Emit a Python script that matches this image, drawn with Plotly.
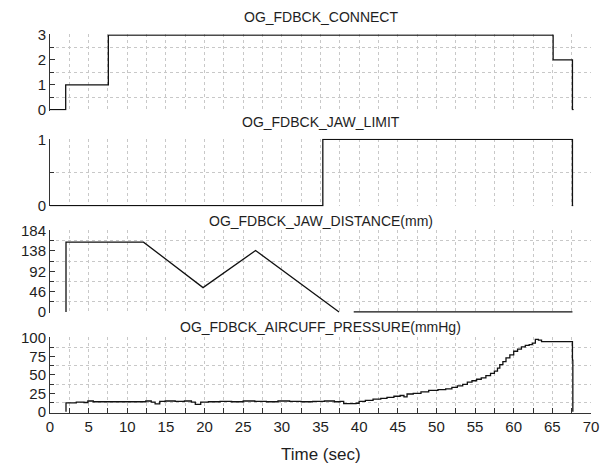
import plotly.graph_objects as go

# ---------------- data ----------------
titles = ["OG_FDBCK_CONNECT", "OG_FDBCK_JAW_LIMIT",
          "OG_FDBCK_JAW_DISTANCE(mm)", "OG_FDBCK_AIRCUFF_PRESSURE(mmHg)"]

connect_t = [0, 2.03, 7.55, 65.1, 67.6, 67.75]
connect_v = [0, 1, 3, 2, 0, 0]

limit_t = [0, 35.3, 67.6, 67.7]
limit_v = [0, 1, 0, 0]

dist_t = [2.07, 2.07, 12.1, 19.8, 26.6, 37.4, None, 39.3, 67.6]
dist_v = [0, 158, 158, 55, 139, 0, None, 0, 0]

press_t = [2.07, 2.07, 3.4, 4.4, 4.9, 5.6, 8.0, 10.5, 12.4, 13.1,
           13.6, 14.2, 14.9, 16.2, 17.4, 18.3, 18.8, 19.5, 20.5, 22.0,
           23.5, 25.0, 26.5, 28.0, 29.5, 31.0, 32.5, 34.0, 35.5, 36.8,
           37.5, 38.0, 39.6, 40.0, 40.8, 41.8, 42.8, 43.6, 44.5, 45.3,
           45.8, 46.2, 47.0, 48.0, 49.0, 50.2, 51.2, 52.0, 52.7, 53.4,
           54.0, 54.6, 55.2, 55.8, 56.4, 57.0, 57.5, 57.9, 58.2, 58.6,
           59.0, 59.5, 60.0, 60.5, 61.0, 61.5, 62.0, 62.4, 62.8, 63.2,
           63.6, 67.6, 67.65]
press_v = [0, 12, 13, 12.5, 14.5, 13.5, 13.5, 13.5, 14.5, 13,
           10.5, 14, 14.5, 14, 14.5, 13, 10, 13, 13.5, 14,
           13.5, 14.5, 14, 13.5, 14.5, 14, 13.5, 14, 14.5, 13.5,
           14, 11, 11.5, 14, 15.5, 17, 18, 19.5, 21, 22,
           20, 24, 25, 27, 29, 30, 31, 33, 35, 37,
           40, 42, 44, 46, 49, 52, 55, 59, 64, 68,
           73, 77, 82, 85, 88, 90, 91, 93, 98, 97,
           95, 70, 0]

y_tops = [3, 1, 184, 100]
y_dticks = [1, 1, 46, 25]
x_ticks = list(range(0, 75, 5))

series = [(connect_t, connect_v), (limit_t, limit_v), (dist_t, dist_v), (press_t, press_v)]

# ---------------- layout helpers ----------------
H = 468.0
panels_px = [(27.0, 106.0), (135.0, 205.0), (229.0, 315.0), (340.0, 418.0)]
title_px = [9.0, 118.0, 220.0, 330.0]
FONT = "Arial, Liberation Sans, sans-serif"
TXT = "#1e1e1e"
GRID = "#c8c8c8"

fig = go.Figure()
layout = {}
for i, ((t, v), top, dt) in enumerate(zip(series, y_tops, y_dticks)):
    n = i + 1
    xa = "x" if n == 1 else f"x{n}"
    ya = "y" if n == 1 else f"y{n}"
    fig.add_trace(go.Scatter(x=t, y=v, mode="lines", xaxis=xa, yaxis=ya,
                             line=dict(color="#111111", width=1.3, shape="hv" if i != 2 else "linear"),
                             connectgaps=False, showlegend=False, hoverinfo="skip"))
    top_px, bot_px = panels_px[i]
    dom = [1 - bot_px / H, 1 - top_px / H]
    pad = top * 0.012
    bottom = (i == 3)
    layout["xaxis" if n == 1 else f"xaxis{n}"] = dict(
        domain=[0, 1], range=[0, 70], anchor=ya,
        tickmode="array", tickvals=x_ticks,
        showticklabels=bottom, showgrid=False, zeroline=False,
        showline=bottom, linecolor="#333333", linewidth=1,
        ticks="inside" if bottom else "", ticklen=5, tickcolor="#333333",
        tickfont=dict(family=FONT, size=15, color=TXT),
        minor=dict(dtick=2.5, tick0=0, showgrid=True, gridcolor=GRID, griddash="dot", gridwidth=1,
                   ticks="inside" if bottom else "", ticklen=5, tickcolor="#333333"),
        fixedrange=True,
    )
    layout["yaxis" if n == 1 else f"yaxis{n}"] = dict(
        domain=dom, range=[-pad, top + pad], anchor=xa,
        tickmode="linear", tick0=0, dtick=dt,
        showgrid=False, zeroline=False,
        showline=True, linecolor="#333333", linewidth=1,
        ticks="inside", ticklen=5, tickcolor="#333333",
        tickfont=dict(family=FONT, size=15, color=TXT),
        minor=dict(dtick=dt / 2, tick0=0, showgrid=True, gridcolor=GRID, griddash="dot", gridwidth=1,
                   ticks="inside", ticklen=4, tickcolor="#333333"),
        fixedrange=True,
    )

annotations = []
for i, ttl in enumerate(titles):
    annotations.append(dict(text=ttl, x=0.5, xref="paper", y=1 - title_px[i] / H, yref="paper",
                            xanchor="center", yanchor="middle", showarrow=False,
                            font=dict(family=FONT, size=14, color=TXT)))
annotations.append(dict(text="Time (sec)", x=0.5, xref="paper", y=1 - 461 / H, yref="paper",
                        xanchor="center", yanchor="middle", showarrow=False,
                        font=dict(family=FONT, size=17, color=TXT)))

fig.update_layout(width=600, height=468, margin=dict(l=50, r=9, t=0, b=0),
                  paper_bgcolor="white", plot_bgcolor="white",
                  annotations=annotations, **layout)

fig.write_html("out.html")
